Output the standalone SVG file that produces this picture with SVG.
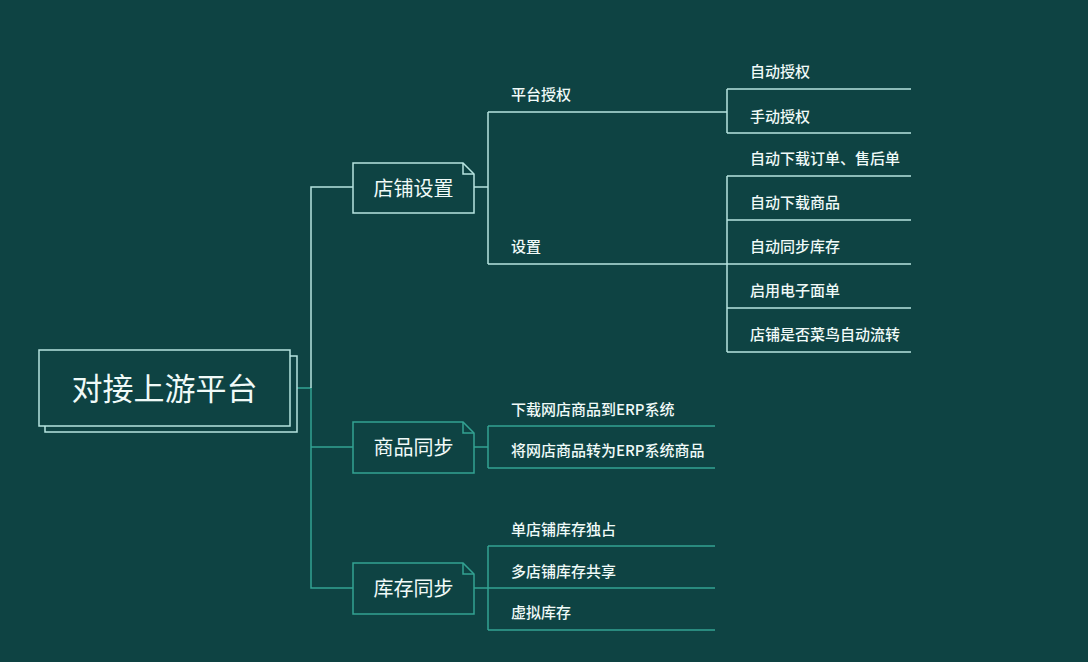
<svg xmlns="http://www.w3.org/2000/svg" width="1088" height="662" viewBox="0 0 1088 662">
<style>
.bg{fill:#0e4343}
.lt{stroke:#b6e4df;stroke-width:1.5;fill:none}
.tl{stroke:#33a393;stroke-width:1.5;fill:none}
.nodeL{stroke:#b6e4df;stroke-width:1.5;fill:#0e4343}
.nodeT{stroke:#33a393;stroke-width:1.5;fill:#0e4343}
text{font-family:"Noto Sans CJK SC","Noto Sans",sans-serif;fill:#f0faf8;font-weight:500}
.root{font-size:31px;text-anchor:middle;font-weight:400}
.main{font-size:20px;text-anchor:middle;font-weight:400}
.lab{font-size:15px}
</style>
<rect class="bg" x="0" y="0" width="1088" height="662"/>
<g id="connectors">
  <path class="tl" d="M297,388 H311"/>
  <path class="lt" d="M311,388 V187 H353"/>
  <path class="tl" d="M311,388 V588 H353 M311,447 H353"/>
  <path class="lt" d="M474,187 H488 M488,112 V264 M488,112 H727 M488,264 H727"/>
  <path class="lt" d="M727,89 V133 M727,89 H911 M727,133 H911"/>
  <path class="lt" d="M727,176 V352 M727,176 H911 M727,220 H911 M727,264 H911 M727,308 H911 M727,352 H911"/>
  <path class="tl" d="M474,447 H488 M488,426 V468 M488,426 H715 M488,468 H715"/>
  <path class="tl" d="M474,588 H488 M488,546 V630 M488,546 H715 M488,588 H715 M488,630 H715"/>
</g>
<g id="root">
  <path class="lt" d="M290,356 H297 V432 H45 V426"/>
  <rect class="nodeL" x="39" y="350" width="251" height="76"/>
  <text class="root" x="164.5" y="400">对接上游平台</text>
</g>
<g id="n-shop">
  <path class="nodeL" d="M353,163 H463 L474,174 V213 H353 Z"/>
  <path class="lt" d="M463,163 V174 H474"/>
  <text class="main" x="413.5" y="196">店铺设置</text>
</g>
<g id="n-goods">
  <path class="nodeT" d="M353,422 H463 L474,433 V473 H353 Z"/>
  <path class="tl" d="M463,422 V433 H474"/>
  <text class="main" x="413.5" y="455">商品同步</text>
</g>
<g id="n-stock">
  <path class="nodeT" d="M353,563 H463 L474,574 V614 H353 Z"/>
  <path class="tl" d="M463,563 V574 H474"/>
  <text class="main" x="413.5" y="596">库存同步</text>
</g>
<g id="n-auth"><text class="lab" x="511" y="100">平台授权</text></g>
<g id="n-set"><text class="lab" x="511" y="252">设置</text></g>
<g id="n-a1"><text class="lab" x="750" y="77">自动授权</text></g>
<g id="n-a2"><text class="lab" x="750" y="122">手动授权</text></g>
<g id="n-s1"><text class="lab" x="750" y="164">自动下载订单、售后单</text></g>
<g id="n-s2"><text class="lab" x="750" y="208">自动下载商品</text></g>
<g id="n-s3"><text class="lab" x="750" y="252">自动同步库存</text></g>
<g id="n-s4"><text class="lab" x="750" y="296">启用电子面单</text></g>
<g id="n-s5"><text class="lab" x="750" y="340">店铺是否菜鸟自动流转</text></g>
<g id="n-g1"><text class="lab" x="511" y="415">下载网店商品到ERP系统</text></g>
<g id="n-g2"><text class="lab" x="511" y="456">将网店商品转为ERP系统商品</text></g>
<g id="n-k1"><text class="lab" x="511" y="535">单店铺库存独占</text></g>
<g id="n-k2"><text class="lab" x="511" y="577">多店铺库存共享</text></g>
<g id="n-k3"><text class="lab" x="511" y="618">虚拟库存</text></g>
</svg>
